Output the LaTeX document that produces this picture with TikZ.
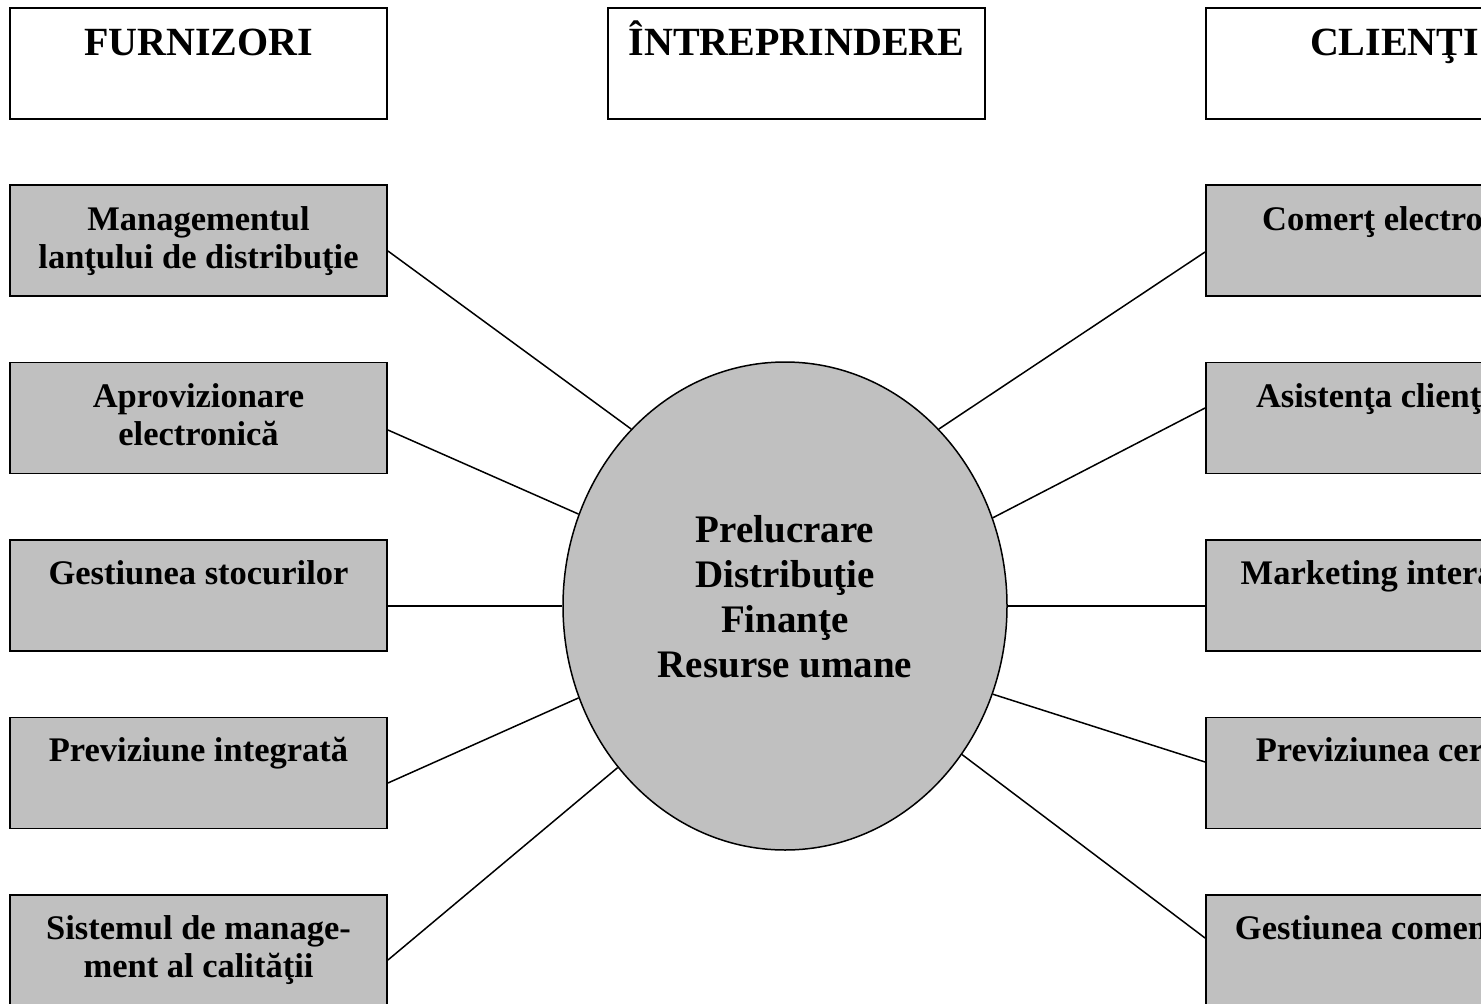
\documentclass[tikz,border=0pt]{standalone}
\usepackage{fontspec}
\setmainfont{Liberation Serif}
\usetikzlibrary{shapes.geometric}
\definecolor{boxgray}{HTML}{C0C0C0}
\tikzset{
  hdrbox/.style={draw, line width=1.9pt, minimum width=377pt, minimum height=111pt, inner sep=0pt, fill=white},
  itembox/.style={draw, line width=1.9pt, minimum width=377pt, minimum height=111pt, inner sep=0pt, fill=boxgray},
  hdrtxt/.style={font=\fontsize{40}{46}\selectfont\bfseries, anchor=base, inner sep=0pt},
  itemtxt/.style={font=\fontsize{34.5}{38.5}\selectfont\bfseries, anchor=base, inner sep=0pt, align=center},
  centtxt/.style={font=\fontsize{39}{45}\selectfont\bfseries, anchor=base, inner sep=0pt, align=center},
  link/.style={line width=1.5pt},
}
\begin{document}
\begin{tikzpicture}[x=1pt,y=-1pt]
\useasboundingbox (0,0) rectangle (1481,1004);
\clip (0,0) rectangle (1481,1004);
% headers
\node[hdrbox] (H1) at (198.5,63.5) {};
\node[hdrbox] (H2) at (796.5,63.5) {};
\node[hdrbox] (H3) at (1394.5,63.5) {};
\node[hdrtxt] (H1t) at (198.5,55) {FURNIZORI};
\node[hdrtxt] (H2t) at (796.5,55) {ÎNTREPRINDERE};
\node[hdrtxt] (H3t) at (1394.5,55) {CLIENŢI};
% left boxes
\node[itembox] (L1) at (198.5,240.5) {};
\node[itembox] (L2) at (198.5,418) {};
\node[itembox] (L3) at (198.5,595.5) {};
\node[itembox] (L4) at (198.5,773) {};
\node[itembox] (L5) at (198.5,950.5) {};
\node[itemtxt] (L1t) at (198.5,268.5) {Managementul\\lanţului de distribuţie};
\node[itemtxt] (L2t) at (198.5,445.5) {Aprovizionare\\electronică};
\node[itemtxt] (L3t) at (198.5,584) {Gestiunea stocurilor};
\node[itemtxt] (L4t) at (198.5,761) {Previziune integrată};
\node[itemtxt] (L5t) at (198.5,977.5) {Sistemul de manage-\\ment al calităţii};
% right boxes
\node[itembox] (R1) at (1394.5,240.5) {};
\node[itembox] (R2) at (1394.5,418) {};
\node[itembox] (R3) at (1394.5,595.5) {};
\node[itembox] (R4) at (1394.5,773) {};
\node[itembox] (R5) at (1394.5,950.5) {};
\node[itemtxt] (R1t) at (1394.5,230) {Comerţ electronic};
\node[itemtxt] (R2t) at (1394.5,407) {Asistenţa clienţilor};
\node[itemtxt] (R3t) at (1394.5,584) {Marketing interactiv};
\node[itemtxt] (R4t) at (1394.5,761) {Previziunea cererii};
\node[itemtxt] (R5t) at (1394.5,939) {Gestiunea comenzilor};
% centre
\node[ellipse, draw, fill=boxgray, line width=1.5pt, minimum width=444pt, minimum height=488pt, inner sep=0pt] (C) at (785,606) {};
\node[centtxt] (Ct) at (785,677) {Prelucrare\\Distribuţie\\Finanţe\\Resurse umane};
% connectors
\draw[link] ([yshift=-10.5pt]L1.east) -- (C.131);
\draw[link] ([yshift=-12pt]L2.east) -- (C.156.3);
\draw[link] ([yshift=-10.5pt]L3.east) -- (C.180);
\draw[link] ([yshift=-10pt]L4.east) -- (C.204.2);
\draw[link] ([yshift=-9.5pt]L5.east) -- (C.224.8);
\draw[link] ([yshift=-11.5pt]R1.west) -- (C.49);
\draw[link] ([yshift=10pt]R2.west) -- (C.23.7);
\draw[link] ([yshift=-10.5pt]R3.west) -- (C.0);
\draw[link] ([yshift=11pt]R4.west) -- (C.-23.2);
\draw[link] ([yshift=12.5pt]R5.west) -- (C.-40.8);
\end{tikzpicture}
\end{document}
